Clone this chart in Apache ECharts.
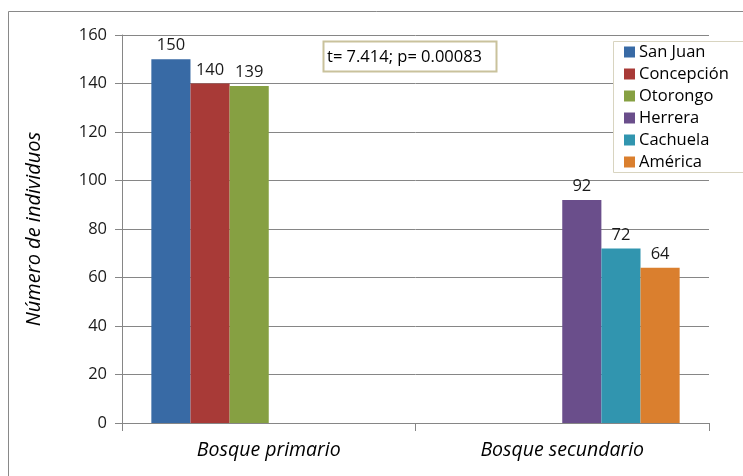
<!DOCTYPE html>
<html>
<head>
<meta charset="utf-8">
<script src="https://cdn.jsdelivr.net/npm/echarts@6/dist/echarts.min.js"></script>
<style>
  html, body { margin: 0; padding: 0; background: #fff; }
  #chart { width: 743px; height: 476px; }
</style>
</head>
<body>
<div id="chart"></div>
<script>
// Forest types on the category axis
const categories = ['Bosque primario', 'Bosque secundario'];

// Individuals counted at each site (null where the site is not in that forest type)
const sanJuan    = [150, null];
const concepcion = [140, null];
const otorongo   = [139, null];
const herrera    = [null, 92];
const cachuela   = [null, 72];
const america    = [null, 64];

const siteNames = ['San Juan', 'Concepción', 'Otorongo', 'Herrera', 'Cachuela', 'América'];
const siteValues = [sanJuan, concepcion, otorongo, herrera, cachuela, america];
const siteColors = ['#386aa5', '#a83a37', '#86a042', '#6a4e8b', '#3195af', '#da7f2e'];

const yTicks = { min: 0, max: 160, interval: 20 };
const statText = 't= 7.414; p= 0.00083';

const FONT = '"Open Sans", "Noto Sans", sans-serif';

const chart = echarts.init(document.getElementById('chart'), null, { renderer: 'canvas' });

const series = siteNames.map((name, i) => ({
  name: name,
  type: 'bar',
  data: siteValues[i],
  barGap: '0%',
  barCategoryGap: '20%',
  itemStyle: { color: siteColors[i] },
  label: {
    show: true,
    position: 'top',
    distance: 5,
    color: '#1a1a1a',
    fontFamily: FONT,
    fontSize: 16.5
  }
}));

chart.setOption({
  animation: false,
  backgroundColor: '#ffffff',
  grid: { left: 122, right: 34, top: 35, bottom: 53, containLabel: false },
  xAxis: {
    type: 'category',
    data: categories,
    axisLine: { show: true, lineStyle: { color: '#868686', width: 1 } },
    axisTick: { show: true, alignWithLabel: false, length: 8, lineStyle: { color: '#868686' } },
    axisLabel: {
      margin: 17,
      color: '#000',
      fontFamily: FONT,
      fontSize: 19.5,
      fontStyle: 'italic'
    },
    splitLine: { show: false }
  },
  yAxis: {
    type: 'value',
    min: yTicks.min,
    max: yTicks.max,
    interval: yTicks.interval,
    name: 'Número de individuos',
    nameLocation: 'middle',
    nameGap: 78,
    nameTextStyle: {
      color: '#000',
      fontFamily: FONT,
      fontSize: 20,
      fontStyle: 'italic'
    },
    axisLine: { show: true, lineStyle: { color: '#868686', width: 1 } },
    axisTick: { show: true, length: 7, lineStyle: { color: '#868686' } },
    axisLabel: {
      margin: 15,
      color: '#1a1a1a',
      fontFamily: FONT,
      fontSize: 16.5
    },
    splitLine: { show: true, lineStyle: { color: '#868686', width: 1 } }
  },
  legend: {
    orient: 'vertical',
    left: 624,
    top: 41,
    padding: 0,
    itemWidth: 11,
    itemHeight: 11,
    itemGap: 0,
    icon: 'rect',
    textStyle: {
      color: '#000',
      fontFamily: FONT,
      fontSize: 16.5,
      lineHeight: 22,
      padding: [0, 0, 0, -1]
    },
    data: siteNames
  },
  graphic: [
    {
      type: 'rect',
      silent: true,
      shape: { x: 8.5, y: 11.5, width: 760, height: 480 },
      style: { fill: 'none', stroke: '#898989', lineWidth: 1 },
      z: -1
    },
    {
      type: 'rect',
      silent: true,
      shape: { x: 613.5, y: 41.5, width: 140, height: 131 },
      style: { fill: '#ffffff', stroke: '#d8d4c0', lineWidth: 1 },
      z: 1
    },
    {
      type: 'rect',
      silent: true,
      shape: { x: 323.5, y: 41.5, width: 173, height: 30 },
      style: { fill: '#ffffff', stroke: '#c9c29c', lineWidth: 2 },
      z: 1
    },
    {
      type: 'text',
      silent: true,
      x: 327,
      y: 57,
      style: {
        text: statText,
        fill: '#000',
        font: '16.5px ' + FONT,
        verticalAlign: 'middle'
      },
      z: 2
    }
  ],
  series: series
});
</script>
</body>
</html>
